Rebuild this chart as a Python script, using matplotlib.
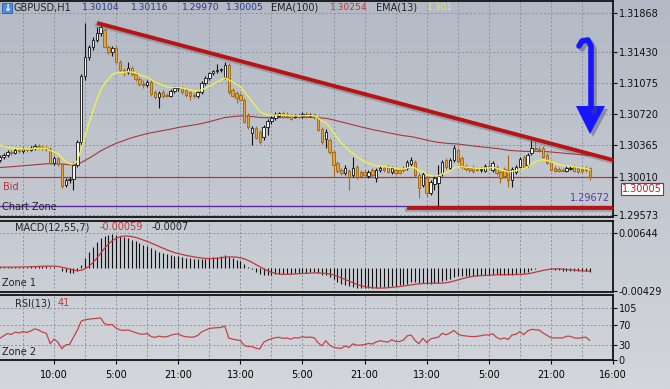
import numpy as np
import pandas as pd
import matplotlib
matplotlib.use('Agg')
import matplotlib.pyplot as plt
from matplotlib.patches import Polygon, Rectangle
from matplotlib.lines import Line2D
from matplotlib.colors import LinearSegmentedColormap

# GBPUSD H1 candles
opens = [1.3020, 1.3023, 1.3026, 1.3029, 1.3028, 1.3031, 1.3030, 1.3032, 1.3031, 1.3033,
         1.3036, 1.3035, 1.3033, 1.3032, 1.3016, 1.3022, 1.3015, 1.2991, 1.2997, 1.2998,
         1.3014, 1.3040, 1.3115, 1.3137, 1.3148, 1.3156, 1.3164, 1.3168, 1.3148, 1.3143,
         1.3147, 1.3131, 1.3122, 1.3120, 1.3124, 1.3118, 1.3112, 1.3106, 1.3105, 1.3108,
         1.3097, 1.3091, 1.3097, 1.3094, 1.3093, 1.3098, 1.3102, 1.3102, 1.3099, 1.3097,
         1.3094, 1.3093, 1.3097, 1.3107, 1.3113, 1.3119, 1.3121, 1.3122, 1.3114, 1.3128,
         1.3099, 1.3096, 1.3094, 1.3088, 1.3071, 1.3050, 1.3056, 1.3052, 1.3046, 1.3057,
         1.3064, 1.3068, 1.3070, 1.3073, 1.3072, 1.3070, 1.3069, 1.3071, 1.3070, 1.3072,
         1.3070, 1.3071, 1.3068, 1.3055, 1.3044, 1.3043, 1.3029, 1.3016, 1.3008, 1.3005,
         1.3007, 1.3003, 1.3012, 1.3006, 1.3006, 1.3002, 1.3008, 1.2999, 1.3008, 1.3011,
         1.3012, 1.3006, 1.3008, 1.3008, 1.3010, 1.3011, 1.3015, 1.3018, 1.3003, 1.2991,
         1.2999, 1.2982, 1.2993, 1.2994, 1.3005, 1.3020, 1.3011, 1.3020, 1.3031, 1.3022,
         1.3013, 1.3011, 1.3012, 1.3010, 1.3008, 1.3007, 1.3013, 1.3008, 1.3012, 1.3006,
         1.3010, 1.3008, 1.2997, 1.3006, 1.3012, 1.3023, 1.3014, 1.3028, 1.3033, 1.3032,
         1.3033, 1.3026, 1.3018, 1.3011, 1.3010, 1.3008, 1.3007, 1.3010, 1.3012, 1.3011,
         1.3010, 1.3011, 1.30104]
highs = [1.3026, 1.3028, 1.3031, 1.3031, 1.3033, 1.3033, 1.3035, 1.3033, 1.3036, 1.3038,
         1.3038, 1.3037, 1.3036, 1.3035, 1.3024, 1.3023, 1.3016, 1.2999, 1.3000, 1.3018,
         1.3043, 1.3118, 1.3176, 1.3151, 1.3160, 1.3171, 1.3177, 1.3170, 1.3151, 1.3149,
         1.3149, 1.3133, 1.3124, 1.3131, 1.3127, 1.3120, 1.3114, 1.3111, 1.3111, 1.3111,
         1.3099, 1.3098, 1.3099, 1.3096, 1.3100, 1.3104, 1.3104, 1.3104, 1.3102, 1.3098,
         1.3096, 1.3099, 1.3110, 1.3115, 1.3120, 1.3122, 1.3129, 1.3124, 1.3131, 1.3130,
         1.3102, 1.3098, 1.3096, 1.3090, 1.3073, 1.3058, 1.3058, 1.3054, 1.3060, 1.3066,
         1.3070, 1.3074, 1.3074, 1.3075, 1.3074, 1.3072, 1.3072, 1.3073, 1.3074, 1.3074,
         1.3073, 1.3073, 1.3070, 1.3057, 1.3055, 1.3045, 1.3031, 1.3019, 1.3011, 1.3014,
         1.3010, 1.3023, 1.3014, 1.3008, 1.3008, 1.3008, 1.3011, 1.3011, 1.3013, 1.3013,
         1.3014, 1.3013, 1.3011, 1.3011, 1.3013, 1.3020, 1.3023, 1.3020, 1.3005, 1.3006,
         1.3002, 1.2997, 1.3003, 1.3014, 1.3020, 1.3022, 1.3022, 1.3037, 1.3033, 1.3024,
         1.3015, 1.3013, 1.3014, 1.3012, 1.3012, 1.3015, 1.3020, 1.3019, 1.3014, 1.3008,
         1.3012, 1.3026, 1.3012, 1.3014, 1.3023, 1.3026, 1.3028, 1.3043, 1.3043, 1.3036,
         1.3036, 1.3028, 1.3020, 1.3013, 1.3012, 1.3011, 1.3013, 1.3013, 1.3014, 1.3013,
         1.3012, 1.3013, 1.30116]
lows = [1.3018, 1.3021, 1.3023, 1.3026, 1.3027, 1.3028, 1.3028, 1.3029, 1.3030, 1.3031,
        1.3032, 1.3031, 1.3030, 1.3015, 1.3014, 1.3013, 1.2988, 1.2989, 1.2994, 1.2986,
        1.3012, 1.3037, 1.3111, 1.3133, 1.3145, 1.3154, 1.3161, 1.3147, 1.3140, 1.3138,
        1.3130, 1.3120, 1.3115, 1.3118, 1.3115, 1.3110, 1.3104, 1.3102, 1.3103, 1.3093,
        1.3089, 1.3079, 1.3090, 1.3091, 1.3091, 1.3096, 1.3098, 1.3095, 1.3091, 1.3088,
        1.3090, 1.3090, 1.3095, 1.3105, 1.3111, 1.3116, 1.3119, 1.3120, 1.3112, 1.3095,
        1.3091, 1.3085, 1.3087, 1.3062, 1.3055, 1.3037, 1.3044, 1.3038, 1.3043, 1.3048,
        1.3061, 1.3065, 1.3069, 1.3068, 1.3068, 1.3065, 1.3068, 1.3068, 1.3068, 1.3068,
        1.3069, 1.3066, 1.3053, 1.3038, 1.3033, 1.3027, 1.3000, 1.3005, 1.3003, 1.3003,
        1.2986, 1.3001, 1.2998, 1.2999, 1.3001, 1.2999, 1.3001, 1.2995, 1.3006, 1.3006,
        1.3005, 1.3004, 1.3003, 1.3004, 1.3006, 1.3008, 1.3013, 1.3001, 1.2977, 1.2989,
        1.2978, 1.2980, 1.2986, 1.2966, 1.3002, 1.3010, 1.3008, 1.3018, 1.3016, 1.3010,
        1.3007, 1.3006, 1.3005, 1.3007, 1.3006, 1.3006, 1.3010, 1.3006, 1.3003, 1.2994,
        1.2999, 1.2989, 1.2989, 1.3004, 1.3010, 1.3011, 1.3012, 1.3026, 1.3030, 1.3029,
        1.3022, 1.3015, 1.3007, 1.3006, 1.3006, 1.3006, 1.3006, 1.3008, 1.3006, 1.3005,
        1.3005, 1.3006, 1.29970]
closes = [1.3023, 1.3026, 1.3029, 1.3028, 1.3031, 1.3030, 1.3032, 1.3031, 1.3033, 1.3036,
          1.3035, 1.3033, 1.3032, 1.3016, 1.3022, 1.3015, 1.2990, 1.2997, 1.2998, 1.3014,
          1.3040, 1.3115, 1.3137, 1.3148, 1.3156, 1.3164, 1.3171, 1.3148, 1.3143, 1.3147,
          1.3131, 1.3122, 1.3120, 1.3124, 1.3118, 1.3112, 1.3106, 1.3105, 1.3108, 1.3095,
          1.3091, 1.3096, 1.3093, 1.3093, 1.3098, 1.3102, 1.3103, 1.3097, 1.3094, 1.3093,
          1.3093, 1.3097, 1.3107, 1.3113, 1.3119, 1.3121, 1.3122, 1.3123, 1.3128, 1.3097,
          1.3093, 1.3090, 1.3088, 1.3063, 1.3057, 1.3056, 1.3045, 1.3040, 1.3057, 1.3064,
          1.3068, 1.3072, 1.3073, 1.3069, 1.3070, 1.3066, 1.3070, 1.3069, 1.3072, 1.3070,
          1.3071, 1.3069, 1.3054, 1.3040, 1.3052, 1.3029, 1.3014, 1.3007, 1.3005, 1.3011,
          1.3001, 1.3011, 1.3001, 1.3002, 1.3003, 1.3006, 1.3003, 1.3008, 1.3011, 1.3008,
          1.3006, 1.3011, 1.3005, 1.3005, 1.3008, 1.3018, 1.3020, 1.3003, 1.2988, 1.3004,
          1.2982, 1.2995, 1.2999, 1.3002, 1.3018, 1.3012, 1.3020, 1.3033, 1.3019, 1.3012,
          1.3010, 1.3008, 1.3007, 1.3008, 1.3010, 1.3013, 1.3012, 1.3016, 1.3005, 1.2999,
          1.3002, 1.2997, 1.3010, 1.3012, 1.3021, 1.3012, 1.3026, 1.3033, 1.3032, 1.3031,
          1.3023, 1.3016, 1.3008, 1.3007, 1.3007, 1.3007, 1.3011, 1.3011, 1.3007, 1.3006,
          1.3007, 1.3008, 1.30005]

# indicator values at the first visible bar
ema13_start = 1.3039
ema100_start = 1.3011
ema12_start = 1.3028
ema55_start = 1.3026
rsi_gain_start = 0.00009
rsi_loss_start = 0.00015

time_ticks = [14, 30, 46, 62, 78, 94, 110, 126, 142, 158]
time_labels = ['10:00', '5:00', '21:00', '13:00', '5:00', '21:00', '13:00', '5:00', '21:00', '16:00']
grid_ticks = [6, 22, 38, 54, 70, 86, 102, 118, 134, 150]
price_ticks = [1.29573, 1.30010, 1.30365, 1.30720, 1.31075, 1.31430, 1.31868]
macd_ticks = [-0.00429, 0.00644]
rsi_ticks = [0, 30, 70, 105]

bid_price = 1.30005
zone_price = 1.29672
trend_x = [25.1, 158]
trend_y = [1.31755, 1.30198]
support_x = [105, 158]
support_y = [1.29653, 1.29653]


def ema(values, n, start):
    a = 2.0 / (n + 1)
    e = start
    out = []
    for v in values:
        e = e + a * (v - e)
        out.append(e)
    return np.array(out)


def rsi(values, n, g, l, prev):
    out = []
    for v in values:
        d = v - prev
        g = (g * (n - 1) + max(d, 0)) / n
        l = (l * (n - 1) + max(-d, 0)) / n
        out.append(100 - 100 / (1 + g / l))
        prev = v
    return np.array(out)


x = np.arange(len(closes))
o = np.array(opens)
c = np.array(closes)
hi = np.array(highs)
lo = np.array(lows)

ema13 = ema(c, 13, ema13_start)
ema100 = ema(c, 100, ema100_start)
macd = ema(c, 12, ema12_start) - ema(c, 55, ema55_start)
signal = pd.Series(macd).rolling(7, min_periods=1).mean().values
rsi13 = rsi(c, 13, rsi_gain_start, rsi_loss_start, opens[0])

W, H = 670, 389
FS = 7


def fx(px):
    return px / W


def fy(py):
    return 1 - py / H


def box(x0, y0, x1, y1):
    return [x0 / W, 1 - y1 / H, (x1 - x0) / W, (y1 - y0) / H]


fig = plt.figure(figsize=(6.7, 3.89), dpi=100)

# grey gradient background
bg = fig.add_axes([0, 0, 1, 1], zorder=-10)
cmap = LinearSegmentedColormap.from_list('bg', ['#b3bac5', '#d3d6db'])
bg.imshow(np.linspace(0, 1, 256).reshape(-1, 1), aspect='auto', cmap=cmap, extent=[0, 1, 0, 1])
bg.axis('off')

ax1 = fig.add_axes(box(-1, 1, 613, 217))
ax2 = fig.add_axes(box(-1, 221, 613, 292))
ax3 = fig.add_axes(box(-1, 295, 613, 360))

grid_kw = dict(color='#8a93a1', linestyle=(0, (2, 2)), linewidth=0.7)
for ax in (ax1, ax2, ax3):
    ax.set_facecolor('none')
    ax.set_xlim(-0.19, 158)
    ax.set_xticks(time_ticks)
    ax.set_xticks(grid_ticks, minor=True)
    ax.grid(True, which='both', **grid_kw)
    ax.set_axisbelow(True)
    for s in ('top', 'bottom', 'right'):
        ax.spines[s].set_linewidth(1.3)
        ax.spines[s].set_color('#111111')
    ax.spines['left'].set_visible(False)
    ax.yaxis.tick_right()
    ax.tick_params(axis='y', direction='out', length=3, pad=1, labelsize=FS, colors='#111111')
    ax.tick_params(axis='x', which='both', length=0, labelbottom=False)
ax3.tick_params(axis='x', which='major', length=3, labelbottom=True, labelsize=FS, pad=4)

# --- price panel ---
up = c >= o
down = ~up
ax1.vlines(x[up], lo[up], hi[up], color='#111111', linewidth=0.8, zorder=3)
ax1.vlines(x[down], lo[down], hi[down], color='#a86a18', linewidth=0.8, zorder=3)
body_lo = np.minimum(o, c)
body_h = np.maximum(np.abs(c - o), 0.00004)
ax1.bar(x[up], body_h[up], 0.62, body_lo[up], color='#f4f4f4', edgecolor='#111111', linewidth=0.6, zorder=4)
ax1.bar(x[down], body_h[down], 0.62, body_lo[down], color='#e3a33a', edgecolor='#9c6414', linewidth=0.6, zorder=4)

ax1.plot(x, ema100, color='#a83838', linewidth=0.8, zorder=2)
ax1.plot(x, ema13, color='#f2f04a', linewidth=1.0, zorder=5)

ax1.axhline(bid_price, color='#c03030', linewidth=0.9, zorder=2)
ax1.axhline(zone_price, color='#5a2aa0', linewidth=1.0, zorder=2)

ax1.plot(trend_x, np.array(trend_y) - 0.00022, color='#59606b', linewidth=3, alpha=0.35, zorder=6)
ax1.plot(trend_x, trend_y, color='#b81414', linewidth=2.8, solid_capstyle='butt', zorder=7)
ax1.plot(support_x, np.array(support_y) - 0.00022, color='#59606b', linewidth=3, alpha=0.35, zorder=6)
ax1.plot(support_x, support_y, color='#b81414', linewidth=2.8, solid_capstyle='butt', zorder=7)

ax1.set_ylim(1.29551, 1.32005)
ax1.set_yticks(price_ticks)
ax1.set_yticklabels(['%.5f' % p for p in price_ticks])

# --- MACD panel ---
ax2.vlines(x, 0, macd, color='#111111', linewidth=0.8)
ax2.plot(x, signal, color='#c03838', linewidth=0.9)
ax2.set_ylim(-0.00447, 0.00866)
ax2.set_yticks(macd_ticks)
ax2.set_yticklabels(['-0.00429', '0.00644'])
ax2.grid(True, axis='y', **grid_kw)

# --- RSI panel ---
ax3.plot(x, rsi13, color='#c24444', linewidth=0.9)
ax3.set_ylim(0, 131)
ax3.set_yticks(rsi_ticks)
ax3.set_xticklabels(time_labels)

# --- texts ---
fig.add_artist(Rectangle((fx(2), fy(13)), 10 / W, 10 / H, transform=fig.transFigure,
                         facecolor='#4d8de0', edgecolor='#2a5aa8', linewidth=0.6))
fig.text(fx(7), fy(8), '↓', color='white', fontsize=7, ha='center', va='center', fontweight='bold')
ty = fy(8)
fig.text(fx(14), ty, 'GBPUSD,H1', fontsize=FS, color='#222222', va='center')
for px, s in [(82, '1.30104'), (131, '1.30116'), (182, '1.29970'), (226, '1.30005')]:
    fig.text(fx(px), ty, s, fontsize=6.6, color='#2b3590', va='center')
fig.text(fx(271), ty, 'EMA(100)', fontsize=FS, color='#222222', va='center')
fig.text(fx(330), ty, '1.30254', fontsize=6.6, color='#c03838', va='center')
fig.text(fx(376), ty, 'EMA(13)', fontsize=FS, color='#222222', va='center')
fig.text(fx(427), ty, '1.301', fontsize=6.6, color='#eeea3a', va='center')

fig.text(fx(3), fy(187), 'Bid', fontsize=FS, color='#c03030', va='center')
fig.text(fx(2), fy(207), 'Chart Zone', fontsize=FS, color='#222222', va='center')
fig.text(fx(610), fy(198), '1.29672', fontsize=FS, color='#5a3aa8', va='center', ha='right')
fig.text(fx(642), fy(189), '1.30005', fontsize=FS, color='#c02020', va='center', ha='center',
         bbox=dict(boxstyle='square,pad=0.15', facecolor='white', edgecolor='#c02020', linewidth=0.8))

fig.text(fx(15), fy(227), 'MACD(12,55,7)', fontsize=FS, color='#222222', va='center')
fig.text(fx(100), fy(227), '-0.00059', fontsize=FS, color='#c03838', va='center')
fig.text(fx(152), fy(227), '-0.0007', fontsize=FS, color='#222222', va='center')
fig.text(fx(2), fy(283), 'Zone 1', fontsize=FS, color='#222222', va='center')

fig.text(fx(15), fy(303), 'RSI(13)', fontsize=FS, color='#222222', va='center')
fig.text(fx(58), fy(303), '41', fontsize=FS, color='#c03838', va='center')
fig.text(fx(2), fy(352), 'Zone 2', fontsize=FS, color='#222222', va='center')

# --- blue hand-drawn arrow ---
shaft = [(579, 46), (582, 41), (588, 40), (591, 46), (591, 108)]
head = [(576, 106), (605, 106), (590, 134)]
for dx, col, al in [(3, '#4a5260', 0.45), (0, '#1616ff', 1.0)]:
    fig.add_artist(Line2D([fx(p[0] + dx) for p in shaft], [fy(p[1] + dx) for p in shaft],
                          transform=fig.transFigure, color=col, alpha=al, linewidth=4.0,
                          solid_capstyle='round', solid_joinstyle='round'))
    fig.add_artist(Polygon([(fx(p[0] + dx), fy(p[1] + dx)) for p in head], closed=True,
                           transform=fig.transFigure, facecolor=col, edgecolor='none', alpha=al))

fig.savefig('out.png', dpi=100)
